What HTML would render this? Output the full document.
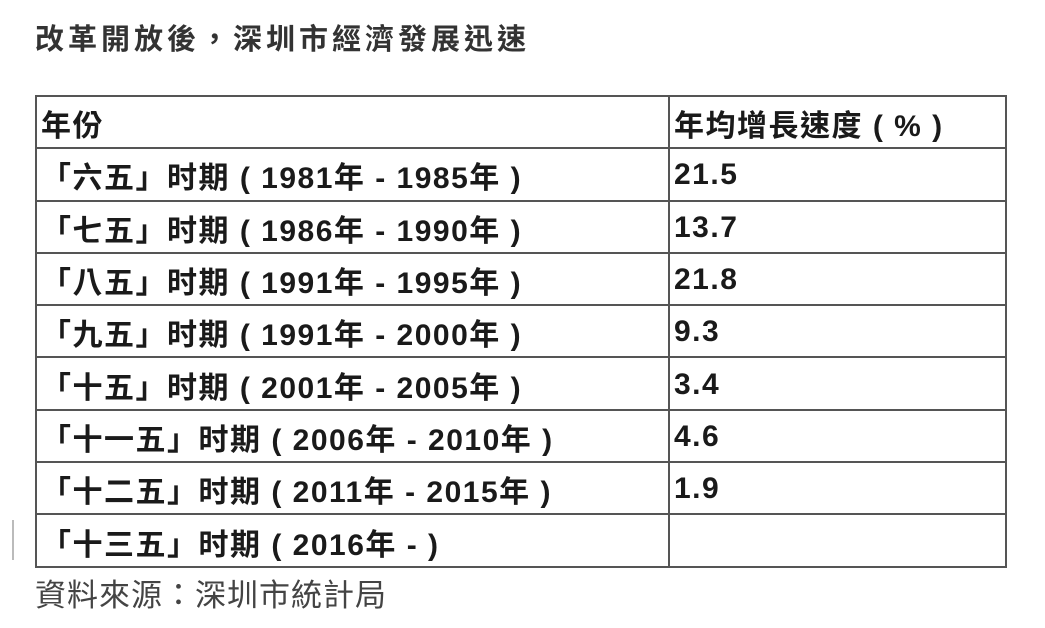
<!DOCTYPE html>
<html><head><meta charset="utf-8"><style>
body{margin:0;width:1045px;height:628px;background:#fff;overflow:hidden;font-family:"Liberation Sans","Noto Sans CJK TC",sans-serif;color:#222;position:relative}
.t{position:absolute;left:35px;top:16px;font-size:29px;font-weight:bold;color:#333;letter-spacing:4px}
table{position:absolute;left:35px;top:95px;width:972px;border-collapse:collapse}
td{border:2px solid #555;height:48.3px;padding:2px 0 0 4px;font-size:30px;font-weight:bold;color:#1a1a1a;white-space:nowrap;letter-spacing:1.5px}
td:first-child{width:627px}
.s{position:absolute;left:35px;top:570px;font-size:31px;color:#444;letter-spacing:1px}
.bar{position:absolute;left:12px;top:520px;width:2px;height:40px;background:#bbb}
</style></head><body>
<div class="t">改革開放後，深圳市經濟發展迅速</div>
<div class="bar"></div>
<table>
<tr><td>年份</td><td>年均增長速度 ( % )</td></tr>
<tr><td>「六五」时期 ( 1981年 - 1985年 )</td><td>21.5</td></tr>
<tr><td>「七五」时期 ( 1986年 - 1990年 )</td><td>13.7</td></tr>
<tr><td>「八五」时期 ( 1991年 - 1995年 )</td><td>21.8</td></tr>
<tr><td>「九五」时期 ( 1991年 - 2000年 )</td><td>9.3</td></tr>
<tr><td>「十五」时期 ( 2001年 - 2005年 )</td><td>3.4</td></tr>
<tr><td>「十一五」时期 ( 2006年 - 2010年 )</td><td>4.6</td></tr>
<tr><td>「十二五」时期 ( 2011年 - 2015年 )</td><td>1.9</td></tr>
<tr><td>「十三五」时期 ( 2016年 - )</td><td></td></tr>
</table>
<div class="s">資料來源：深圳市統計局</div>
</body></html>
